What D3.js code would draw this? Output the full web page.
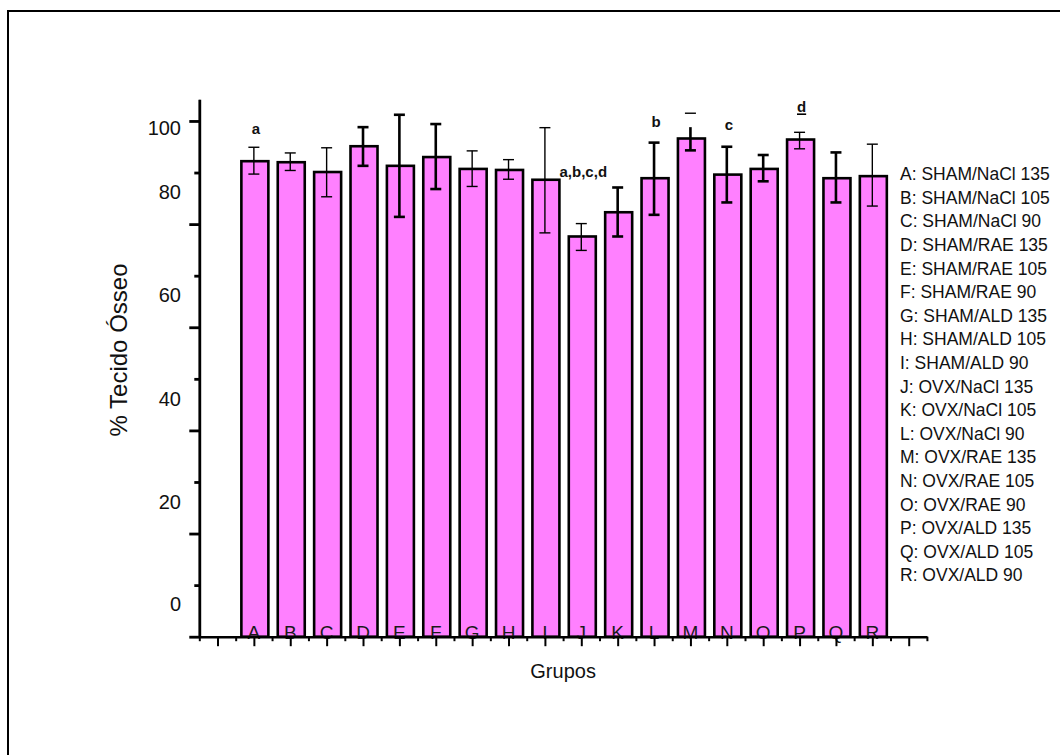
<!DOCTYPE html>
<html>
<head>
<meta charset="utf-8">
<script src="https://cdn.jsdelivr.net/npm/d3@7"></script>
<style>
  body { margin: 0; background: #fff; }
  svg { display: block; font-family: Arial, 'Liberation Sans', sans-serif; }
</style>
</head>
<body>
<script>
// groups and their legend text
const groups = ['A', 'B', 'C', 'D', 'E', 'F', 'G', 'H', 'I', 'J', 'K', 'L', 'M', 'N', 'O', 'P', 'Q', 'R'];
const legendLabels = [
  'A: SHAM/NaCl 135', 'B: SHAM/NaCl 105', 'C: SHAM/NaCl 90',
  'D: SHAM/RAE 135', 'E: SHAM/RAE 105', 'F: SHAM/RAE 90',
  'G: SHAM/ALD 135', 'H: SHAM/ALD 105', 'I: SHAM/ALD 90',
  'J: OVX/NaCl 135', 'K: OVX/NaCl 105', 'L: OVX/NaCl 90',
  'M: OVX/RAE 135', 'N: OVX/RAE 105', 'O: OVX/RAE 90',
  'P: OVX/ALD 135', 'Q: OVX/ALD 105', 'R: OVX/ALD 90'
];

// % tecido osseo (mean) and error bar ends
const means = [92.2, 92.0, 90.1, 95.1, 91.3, 93.0, 90.7, 90.5, 88.6, 77.6, 82.3, 88.9, 96.6, 89.6, 90.7, 96.4, 88.9, 89.3];
const errHi = [94.9, 93.8, 94.8, 98.8, 101.2, 99.4, 94.2, 92.5, 98.7, 80.1, 87.1, 95.8, 98.8, 95.0, 93.4, 97.8, 93.9, 95.5];
const errLo = [89.7, 90.4, 85.3, 91.3, 81.4, 86.8, 87.3, 88.7, 78.3, 74.9, 77.6, 81.8, 94.3, 84.2, 88.3, 94.6, 84.2, 83.5];
// upper caps (M's cap sits detached above its bar)
const capHi = [94.9, 93.8, 94.8, 98.8, 101.2, 99.4, 94.2, 92.5, 98.7, 80.1, 87.1, 95.8, 101.5, 95.0, 93.4, 97.8, 93.9, 95.5];

// significance letters
const sigGroups = ['A', 'J', 'L', 'N', 'P'];
const sigLabels = ['a', 'a,b,c,d', 'b', 'c', 'd'];
const sigAt = [97.5, 89.1, 98.9, 98.3, 101.7];

// y tick labels (they sit off the ticks in the original)
const yTickLabels = ['0', '20', '40', '60', '80', '100'];
const yLabelAt = [6.3, 26.2, 46.1, 66.3, 86.3, 98.6];

const width = 1060;
const height = 755;
const thickErr = new Set(['D', 'E', 'F', 'K', 'L', 'M', 'N', 'O', 'Q']);

const svg = d3.select('body').append('svg')
  .attr('width', width)
  .attr('height', height);

// outer frame
svg.append('rect')
  .attr('x', 8).attr('y', 11)
  .attr('width', 1200).attr('height', 900)
  .attr('fill', 'none')
  .attr('stroke', '#000')
  .attr('stroke-width', 2);

const x = d3.scaleLinear().domain([-1.5, 18.5]).range([199.3, 926.9]);
const y = d3.scaleLinear().domain([0, 104.2]).range([636.7, 99.3]);
const idx = g => groups.indexOf(g);
const barW = 27;

// bars
svg.append('g').selectAll('rect')
  .data(groups)
  .join('rect')
  .attr('x', (d, i) => x(i) - barW / 2 + 1)
  .attr('y', (d, i) => y(means[i]))
  .attr('width', barW)
  .attr('height', (d, i) => y(0) - y(means[i]))
  .attr('fill', '#ff80ff')
  .attr('stroke', '#000')
  .attr('stroke-width', 2.6);

// group letters inside the bars
svg.append('g').selectAll('text')
  .data(groups)
  .join('text')
  .attr('x', (d, i) => x(i))
  .attr('y', y(0) + 2)
  .attr('text-anchor', 'middle')
  .attr('font-size', 19)
  .attr('fill', '#1a1a1a')
  .text(d => d);

// error bars
const err = svg.append('g').attr('stroke', '#000');
groups.forEach((g, i) => {
  const w = thickErr.has(g) ? 2.6 : 1.4;
  const cx = x(i);
  err.append('line')
    .attr('x1', cx).attr('x2', cx)
    .attr('y1', y(errLo[i])).attr('y2', y(errHi[i]))
    .attr('stroke-width', w);
  err.append('line')
    .attr('x1', cx - 5.5).attr('x2', cx + 5.5)
    .attr('y1', y(errLo[i])).attr('y2', y(errLo[i]))
    .attr('stroke-width', w);
  err.append('line')
    .attr('x1', cx - 5.5).attr('x2', cx + 5.5)
    .attr('y1', y(capHi[i])).attr('y2', y(capHi[i]))
    .attr('stroke-width', thickErr.has(g) && g !== 'M' ? w : 1.4);
});

// significance letters
sigGroups.forEach((g, k) => {
  const t = svg.append('text')
    .attr('x', x(idx(g)) + 2)
    .attr('y', y(sigAt[k]))
    .attr('text-anchor', 'middle')
    .attr('font-size', 15)
    .attr('font-weight', 'bold')
    .attr('fill', '#111')
    .text(sigLabels[k]);
  if (sigLabels[k] === 'd') {
    const b = t.node().getBBox();
    svg.append('line')
      .attr('x1', b.x).attr('x2', b.x + b.width)
      .attr('y1', y(sigAt[k]) + 2).attr('y2', y(sigAt[k]) + 2)
      .attr('stroke', '#000')
      .attr('stroke-width', 1.6);
  }
});

// x axis: long ticks on groups, short ticks between
const xMajor = d3.axisBottom(x).tickValues(d3.range(-1, 19)).tickSize(9.5).tickSizeOuter(0).tickFormat('');
const xMinor = d3.axisBottom(x).tickValues(d3.range(-1.5, 19, 1)).tickSize(4.5).tickSizeOuter(0).tickFormat('');
svg.append('g').attr('transform', 'translate(0,' + y(0) + ')').call(xMinor)
  .call(g => g.selectAll('line').attr('stroke-width', 2));
svg.append('g').attr('transform', 'translate(0,' + y(0) + ')').call(xMajor)
  .call(g => g.selectAll('line').attr('stroke-width', 2))
  .call(g => g.select('.domain').attr('stroke-width', 2.6));

// y axis
const yMajor = d3.axisLeft(y).tickValues(d3.range(0, 101, 20)).tickSize(10).tickSizeOuter(0).tickFormat('');
const yMinor = d3.axisLeft(y).tickValues(d3.range(10, 100, 20)).tickSize(5).tickSizeOuter(0).tickFormat('');
svg.append('g').attr('transform', 'translate(' + x(-1.5) + ',0)').call(yMinor)
  .call(g => g.selectAll('line').attr('stroke-width', 2.8));
svg.append('g').attr('transform', 'translate(' + x(-1.5) + ',0)').call(yMajor)
  .call(g => g.selectAll('line').attr('stroke-width', 2.8))
  .call(g => g.select('.domain').attr('stroke-width', 2.8));

svg.append('g').selectAll('text')
  .data(yTickLabels)
  .join('text')
  .attr('x', 181)
  .attr('y', (d, i) => y(yLabelAt[i]))
  .attr('dy', '0.35em')
  .attr('text-anchor', 'end')
  .attr('font-size', 20)
  .attr('fill', '#111')
  .text(d => d);

// axis titles
svg.append('text')
  .attr('x', x(8.5))
  .attr('y', 678)
  .attr('text-anchor', 'middle')
  .attr('font-size', 20)
  .attr('fill', '#111')
  .text('Grupos');

svg.append('text')
  .attr('transform', 'translate(127,350) rotate(-90)')
  .attr('text-anchor', 'middle')
  .attr('font-size', 24)
  .attr('fill', '#111')
  .text('% Tecido Ósseo');

// legend
svg.append('g').selectAll('text')
  .data(legendLabels)
  .join('text')
  .attr('x', 900)
  .attr('y', (d, i) => 174 + i * 23.6)
  .attr('dy', '0.35em')
  .attr('font-size', 17.5)
  .attr('fill', '#111')
  .text(d => d);
</script>
</body>
</html>
